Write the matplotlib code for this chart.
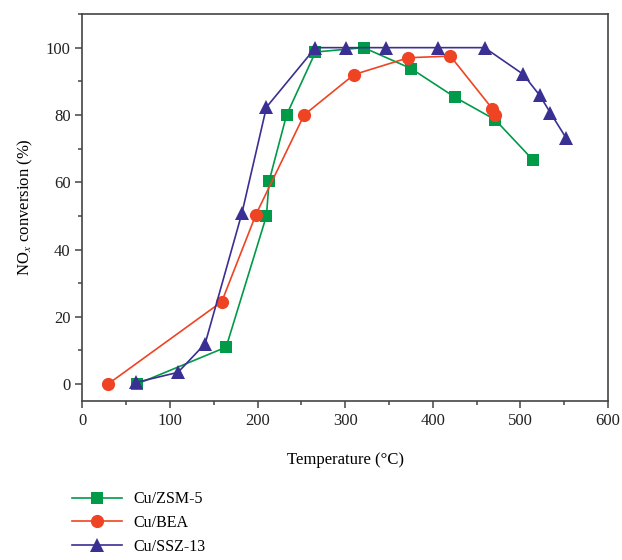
import matplotlib
matplotlib.use("Agg")
import matplotlib.pyplot as plt
from matplotlib.ticker import MultipleLocator

plt.rcParams.update({
    "font.family": "Liberation Serif",
    "mathtext.fontset": "stix",
    "axes.edgecolor": "#444444",
    "axes.linewidth": 1.2,
    "xtick.direction": "out",
    "ytick.direction": "out",
    "xtick.color": "#444444",
    "ytick.color": "#444444",
    "xtick.labelcolor": "#222222",
    "ytick.labelcolor": "#222222",
})

# ── Data ──────────────────────────────────────────────────────────────────────
zsm_T = [62, 164, 210, 213, 233, 266, 321, 375, 425, 471, 514]
zsm_conv = [0, 11, 50, 60.3, 80, 98.7, 100, 93.8, 85.3, 78.6, 66.7]

bea_T = [29, 159, 198, 253, 310, 372, 420, 468, 471]
bea_conv = [0, 24.5, 50.4, 80, 92, 97, 97.5, 81.8, 80]

ssz_T = [61, 109, 140, 182, 210, 266, 301, 347, 406, 459, 503, 522, 534, 552]
ssz_conv = [0.5, 3.5, 12, 50.8, 82.3, 100, 100, 100, 100, 100, 92.1, 85.8, 80.7, 73.2]

SERIES = [
    ("Cu/ZSM-5", zsm_T, zsm_conv, "#009a49", "s", 8.5),
    ("Cu/BEA", bea_T, bea_conv, "#ef4423", "o", 9.5),
    ("Cu/SSZ-13", ssz_T, ssz_conv, "#3a2f92", "^", 10.5),
]

fig = plt.figure(figsize=(6.22, 5.60), dpi=100)
ax = fig.add_axes([0.1326, 0.284, 0.845, 0.691])

handles = []
for label, x, y, color, marker, ms in SERIES:
    h, = ax.plot(x, y, color=color, marker=marker, markersize=ms,
                 linewidth=1.2, markeredgewidth=0, label=label)
    handles.append(h)

ax.set_xlim(0, 600)
ax.set_ylim(-5, 110)
ax.xaxis.set_major_locator(MultipleLocator(100))
ax.xaxis.set_minor_locator(MultipleLocator(50))
ax.yaxis.set_minor_locator(MultipleLocator(10))
ax.set_yticks(range(0, 101, 20))
ax.tick_params(which="major", length=5, width=1.1, labelsize=12)
ax.tick_params(which="minor", length=3, width=1.1)

ax.set_xlabel("Temperature (°C)", fontsize=12, labelpad=17)
ax.set_ylabel("NO$_x$ conversion (%)", fontsize=12, labelpad=8)

fig.legend(handles=handles, loc="upper left", bbox_to_anchor=(0.106, 0.134),
           frameon=False, fontsize=11.5, handlelength=3.1, handletextpad=0.75,
           labelspacing=0.48, borderaxespad=0)

fig.savefig("out.png", dpi=100, facecolor="white")
